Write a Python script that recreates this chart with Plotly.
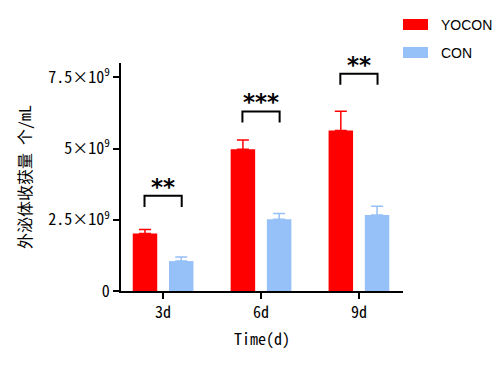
import plotly.graph_objects as go

categories = ["3d", "6d", "9d"]
series_names = ["YOCON", "CON"]
yocon_values = [2.02e9, 4.97e9, 5.63e9]
yocon_errors = [0.14e9, 0.33e9, 0.68e9]
con_values = [1.05e9, 2.52e9, 2.67e9]
con_errors = [0.14e9, 0.20e9, 0.30e9]
sig_labels = ["**", "***", "**"]
sig_bracket_top = [3.34e9, 6.30e9, 7.62e9]
sig_bracket_bottom = [2.95e9, 5.91e9, 7.24e9]
y_tickvals = [0, 2.5e9, 5e9, 7.5e9]
y_ticktext = ["0", "2.5×10<sup>9</sup>", "5×10<sup>9</sup>", "7.5×10<sup>9</sup>"]

RED = "#FF0000"
BLUE = "#95C0F8"
FONT = "Noto Sans Mono CJK SC, DejaVu Sans Mono, Noto Sans CJK SC, monospace"

xs = list(range(len(categories)))
fig = go.Figure()
fig.add_trace(go.Bar(
    x=xs, y=yocon_values, name=series_names[0], offset=-0.31, width=0.25,
    marker=dict(color=RED, line=dict(width=0)),
    error_y=dict(type="data", array=yocon_errors, arrayminus=[0]*3, symmetric=False,
                 color=RED, thickness=1.5, width=6),
    showlegend=False,
))
fig.add_trace(go.Bar(
    x=xs, y=con_values, name=series_names[1], offset=0.06, width=0.25,
    marker=dict(color=BLUE, line=dict(width=0)),
    error_y=dict(type="data", array=con_errors, arrayminus=[0]*3, symmetric=False,
                 color=BLUE, thickness=1.5, width=6),
    showlegend=False,
))

shapes = []
annotations = []
for i, lab in enumerate(sig_labels):
    x0, x1 = i - 0.19, i + 0.19
    yt, yb = sig_bracket_top[i], sig_bracket_bottom[i]
    shapes.append(dict(type="path", xref="x", yref="y",
                       path=f"M {x0} {yb} L {x0} {yt} L {x1} {yt} L {x1} {yb}",
                       line=dict(color="black", width=2)))
    annotations.append(dict(x=i, y=yt, xref="x", yref="y", text="<b>" + lab + "</b>",
                            showarrow=False, yanchor="middle", yshift=9,
                            font=dict(family="DejaVu Sans", size=23, color="black")))

# manual legend
legend_colors = [RED, BLUE]
PW, PH = 282, 228
for k, (nm, col) in enumerate(zip(series_names, legend_colors)):
    ytop = 19 + 28 * k
    shapes.append(dict(type="rect", xref="paper", yref="paper",
                       x0=(403 - 121) / PW, x1=(428 - 121) / PW,
                       y0=(291 - ytop) / PH, y1=(291 - ytop - 11) / PH,
                       fillcolor=col, line=dict(width=0)))
    annotations.append(dict(x=(441 - 121) / PW, y=(291 - ytop - 5.5) / PH,
                            xref="paper", yref="paper", text=nm, showarrow=False,
                            xanchor="left", yanchor="middle", xshift=-2,
                            font=dict(family="Liberation Sans", size=14, color="black")))

fig.update_layout(
    width=500, height=367,
    margin=dict(l=121, r=97, t=63, b=76),
    plot_bgcolor="white", paper_bgcolor="white",
    font=dict(family=FONT, size=16, color="black"),
    shapes=shapes, annotations=annotations,
    xaxis=dict(range=[-0.43, 2.45], tickvals=xs, ticktext=categories,
               showline=True, linecolor="black", linewidth=2,
               ticks="outside", ticklen=6, tickwidth=2, tickcolor="black",
               showgrid=False, zeroline=False, tickfont=dict(size=16),
               title=dict(text="Time(d)", font=dict(size=16), standoff=12)),
    yaxis=dict(range=[0, 8e9], tickvals=y_tickvals, ticktext=y_ticktext,
               showline=True, linecolor="black", linewidth=2,
               ticks="outside", ticklen=6, tickwidth=2, tickcolor="black",
               showgrid=False, zeroline=False, tickfont=dict(size=16),
               title=dict(text="外泌体收获量 个/mL", font=dict(size=16), standoff=13)),
)
fig.write_html("out.html", config={"displayModeBar": False},
               post_script="document.body.style.margin='0px';")
